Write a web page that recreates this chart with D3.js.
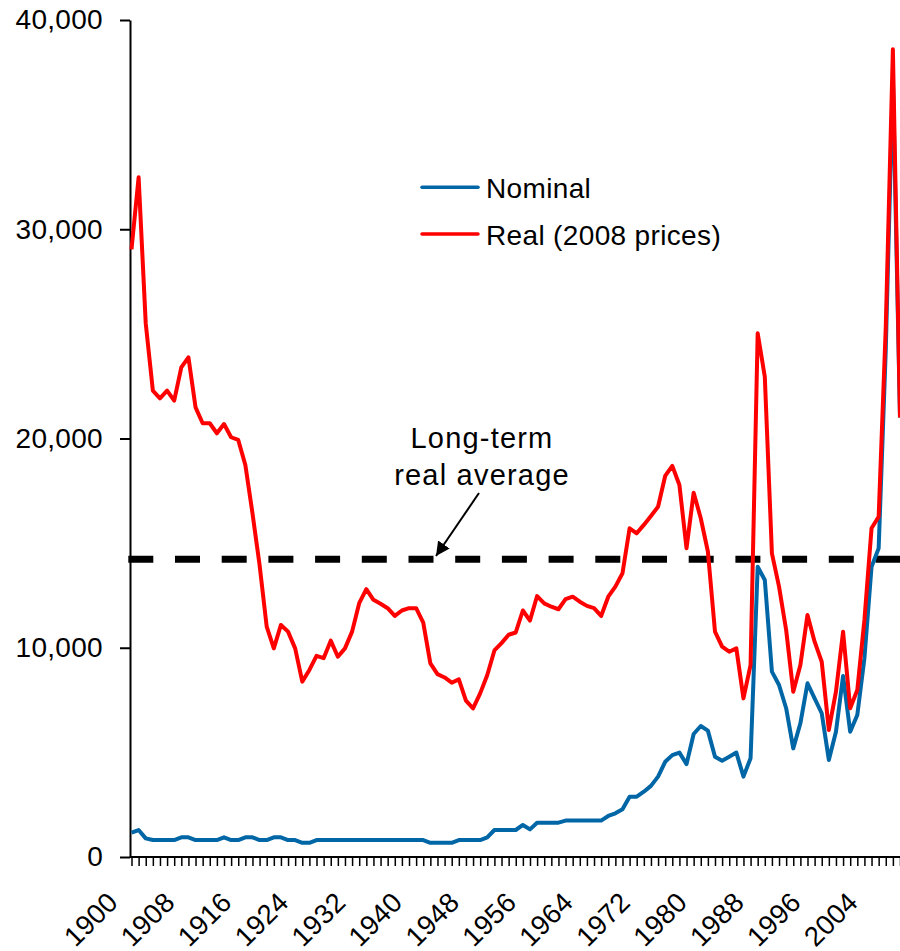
<!DOCTYPE html>
<html><head><meta charset="utf-8">
<script src="https://cdn.jsdelivr.net/npm/d3@7"></script>
<style>
body{margin:0;background:#fff}
svg{display:block}
text{font-family:"Liberation Sans",Arial,sans-serif;fill:#000}
</style>
</head><body>
<svg id="chart" width="900" height="951"></svg>
<script>
// ---- data ----
const years = d3.range(1900, 2009);
const nominal = [
  1160, 1290, 890, 810, 810, 810, 810, 940, 940, 810,
  810, 810, 810, 940, 810, 810, 940, 940, 810, 810,
  940, 940, 810, 810, 680, 680, 810, 810, 810, 810,
  810, 810, 810, 810, 810, 810, 810, 810, 810, 810,
  810, 810, 680, 680, 680, 680, 810, 810, 810, 810,
  940, 1290, 1290, 1290, 1290, 1530, 1320, 1640, 1640, 1640,
  1640, 1740, 1740, 1740, 1740, 1740, 1740, 1960, 2090, 2280,
  2880, 2880, 3120, 3400, 3840, 4550, 4870, 4990, 4440, 5880,
  6260, 6040, 4790, 4600, 4790, 4990, 3840, 4720, 13870, 13240,
  8860, 8220, 7110, 5190, 6390, 8300, 7580, 6870, 4640, 5990,
  8650, 5990, 6790, 9500, 13870, 14750, 24250, 37200, 21000
];
const real = [
  29040, 32480, 25500, 22290, 21920, 22290, 21810, 23400, 23880, 21490,
  20730, 20730, 20250, 20690, 20060, 19930, 18730, 16430, 13950, 11010,
  9970, 11090, 10770, 9970, 8380, 8940, 9610, 9500, 10340, 9570,
  9970, 10770, 12130, 12800, 12290, 12100, 11890, 11520, 11780, 11890,
  11890, 11200, 9250, 8740, 8580, 8330, 8490, 7470, 7100, 7820,
  8700, 9870, 10220, 10620, 10730, 11780, 11300, 12470, 12120, 11960,
  11840, 12320, 12440, 12200, 12000, 11890, 11520, 12440, 12920, 13560,
  15710, 15470, 15870, 16300, 16740, 18210, 18690, 17780, 14750, 17410,
  16190, 14600, 10770, 10050, 9810, 9970, 7580, 9180, 25030, 22950,
  14510, 12920, 10850, 7900, 9180, 11570, 10290, 9330, 6070, 7900,
  10770, 7110, 7980, 11330, 15710, 16260, 25330, 38600, 21000
];
const yTickValues = [0, 10000, 20000, 30000, 40000];
const xLabelYears = [1900, 1908, 1916, 1924, 1932, 1940, 1948, 1956, 1964, 1972, 1980, 1988, 1996, 2004];
const longTermRealAverage = 14230;
const seriesNames = ["Nominal", "Real (2008 prices)"];
const seriesColors = ["#0066a6", "#ff0000"];
const annotationLines = ["Long-term", "real average"];

// ---- drawing ----
const svg = d3.select("#chart");
const x = d3.scaleLinear().domain([1900, 2008]).range([131.5, 900]);
const y = d3.scaleLinear().domain([0, 40000]).range([857, 20]);

// x axis ticks (every year)
const xAxis = d3.axisBottom(x).tickValues(years).tickSize(9).tickSizeOuter(0).tickFormat("");
const gx = svg.append("g").attr("transform", "translate(0,857)").call(xAxis);
gx.select(".domain").remove();
gx.selectAll(".tick line").attr("stroke", "#000").attr("stroke-width", 1.5);
svg.append("line").attr("x1", 130).attr("x2", 900).attr("y1", 857).attr("y2", 857)
  .attr("stroke", "#000").attr("stroke-width", 2);

// x labels
svg.append("g").selectAll("text").data(xLabelYears).join("text")
  .attr("transform", d => `translate(${x(d) - 12},904) rotate(-45)`)
  .attr("text-anchor", "end")
  .attr("font-size", 27.5)
  .attr("letter-spacing", 0.3)
  .text(d => d);

// y axis
const yAxis = d3.axisLeft(y).tickValues(yTickValues).tickSize(10).tickSizeOuter(0)
  .tickPadding(17).tickFormat(d3.format(","));
const gy = svg.append("g").attr("transform", "translate(130,0)").call(yAxis);
gy.select(".domain").attr("stroke", "#000").attr("stroke-width", 2);
gy.selectAll(".tick line").attr("stroke", "#000").attr("stroke-width", 2);
gy.selectAll(".tick text").attr("font-size", 28).attr("letter-spacing", 0.3)
  .attr("font-family", '"Liberation Sans",Arial,sans-serif').attr("fill", "#000");

// long-term average dashed line
svg.append("line")
  .attr("x1", 128.3).attr("x2", 900)
  .attr("y1", y(longTermRealAverage)).attr("y2", y(longTermRealAverage))
  .attr("stroke", "#000").attr("stroke-width", 7)
  .attr("stroke-dasharray", "25,21.7");

// series lines
const line = d3.line().x((d, i) => x(years[i])).y(d => y(d));
[nominal, real].forEach((s, k) => {
  svg.append("path").datum(s)
    .attr("d", line)
    .attr("fill", "none")
    .attr("stroke", seriesColors[k])
    .attr("stroke-width", 4)
    .attr("stroke-linejoin", "round");
});

// legend
const legend = svg.append("g");
seriesNames.forEach((name, k) => {
  const ly = 187.3 + k * 46.7;
  legend.append("line").attr("x1", 422).attr("x2", 478).attr("y1", ly).attr("y2", ly)
    .attr("stroke", seriesColors[k]).attr("stroke-width", 3.5).attr("stroke-linecap", "round");
  legend.append("text").attr("x", 486).attr("y", ly + 11).attr("font-size", 28)
    .attr("letter-spacing", 0.35).text(name);
});

// annotation
svg.append("g").selectAll("text").data(annotationLines).join("text")
  .attr("x", 482).attr("y", (d, i) => 448 + i * 37)
  .attr("text-anchor", "middle").attr("font-size", 29).attr("letter-spacing", 1.2).text(d => d);

const defs = svg.append("defs");
defs.append("marker").attr("id", "arrow").attr("viewBox", "0 0 10 10")
  .attr("refX", 10).attr("refY", 5).attr("markerWidth", 7).attr("markerHeight", 7)
  .attr("markerUnits", "strokeWidth").attr("orient", "auto")
  .append("path").attr("d", "M0,0 L10,5 L0,10 z").attr("fill", "#000");
svg.append("line").attr("x1", 479).attr("y1", 493).attr("x2", 436).attr("y2", 556)
  .attr("stroke", "#000").attr("stroke-width", 2).attr("marker-end", "url(#arrow)");
</script>
</body></html>
